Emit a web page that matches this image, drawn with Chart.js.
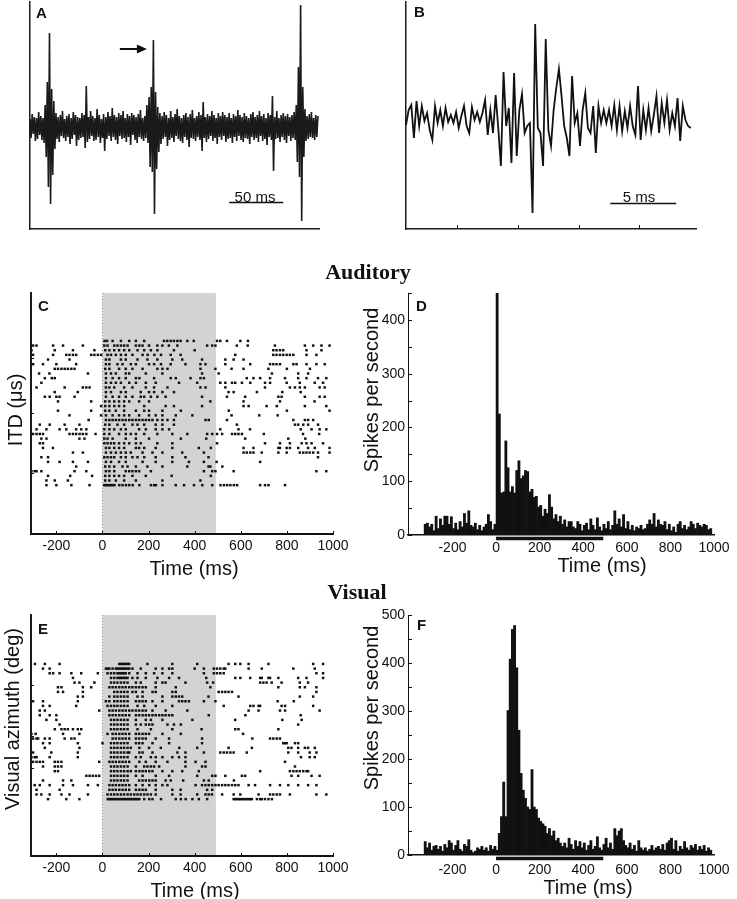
<!DOCTYPE html>
<html>
<head>
<meta charset="utf-8">
<title>Auditory and visual responses</title>
<script src="https://cdn.jsdelivr.net/npm/chart.js@4.4.1/dist/chart.umd.min.js"></script>
<style>
  html, body { margin:0; padding:0; background:#fff; }
  body { position:relative; width:737px; height:899px; overflow:hidden; font-family:"Liberation Sans", Arial, sans-serif; color:#111; }
  canvas { position:absolute; }
  .t { position:absolute; line-height:1; white-space:nowrap; }
  .c { transform:translate(-50%,-50%); }
  .r { transform:translate(-50%,-50%) rotate(-90deg); }
  .lt { font-weight:bold; font-size:15px; }
  .ax { font-size:20px; }
  .sb { font-size:15px; }
  .sec { font-family:"Liberation Serif","Times New Roman",serif; font-weight:bold; font-size:22px; }
</style>
</head>
<body>
<canvas id="cA" width="345" height="240" style="left:0;top:0"></canvas>
<canvas id="cB" width="367" height="240" style="left:370px;top:0"></canvas>
<canvas id="cC" width="355" height="300" style="left:0;top:285px"></canvas>
<canvas id="cD" width="382" height="306" style="left:355px;top:279px"></canvas>
<canvas id="cE" width="355" height="300" style="left:0;top:607px"></canvas>
<canvas id="cF" width="382" height="306" style="left:355px;top:601px"></canvas>

<div class="t lt" style="left:36px;top:5px">A</div>
<div class="t lt" style="left:414px;top:4px">B</div>
<div class="t lt" style="left:38px;top:298px">C</div>
<div class="t lt" style="left:416px;top:298px">D</div>
<div class="t lt" style="left:38px;top:621px">E</div>
<div class="t lt" style="left:417px;top:617px">F</div>

<div class="t sb c" style="left:255px;top:196px">50 ms</div>
<div class="t sb c" style="left:639px;top:196px">5 ms</div>

<div class="t sec c" style="left:368px;top:272px">Auditory</div>
<div class="t sec c" style="left:357px;top:592px">Visual</div>

<div class="t ax r" style="left:15px;top:410px">ITD (μs)</div>
<div class="t ax r" style="left:12px;top:719px">Visual azimuth (deg)</div>
<div class="t ax r" style="left:371px;top:390px">Spikes per second</div>
<div class="t ax r" style="left:371px;top:708px">Spikes per second</div>
<div class="t ax c" style="left:194px;top:568px">Time (ms)</div>
<div class="t ax c" style="left:602px;top:565px">Time (ms)</div>
<div class="t ax c" style="left:195px;top:890px">Time (ms)</div>
<div class="t ax c" style="left:588px;top:887px">Time (ms)</div>

<script>
// ---- data ----
// A: overlaid raw sweeps, one sample per ms
var aStep = 1;
var aTrace = [
  8,-11,13,-7,10,-14,9,-12,15,-8,11,-13,9,-16,22,-30,45,-60,94,-77,
  38,-48,26,-22,14,-12,10,-15,12,-9,16,-11,8,-14,11,-10,13,-17,9,-12,
  15,-8,12,-19,10,-13,9,-11,14,-10,12,-21,41,-15,10,-12,16,-9,11,-14,
  9,-13,18,-10,12,-16,8,-11,13,-24,10,-12,15,-9,11,-14,19,-10,12,-13,
  10,-17,14,-9,12,-12,16,-11,9,-15,13,-10,11,-18,14,-8,12,-13,10,-16,
  13,-10,17,-12,9,-14,11,-11,22,-16,30,-40,40,-45,87,-87,35,-42,20,-25,
  14,-17,11,-12,15,-10,12,-19,9,-13,16,-11,10,-15,13,-9,18,-12,11,-14,
  9,-16,12,-10,14,-13,10,-20,13,-11,17,-12,9,-14,11,-10,15,-13,12,-24,
  25,-11,10,-15,13,-12,11,-9,16,-14,12,-11,9,-17,14,-10,11,-13,15,-9,
  12,-15,10,-12,14,-11,9,-16,13,-10,11,-14,17,-9,12,-13,10,-15,14,-11,
  11,-12,9,-17,13,-10,15,-13,10,-11,12,-15,16,-9,11,-14,13,-12,9,-18,
  14,-10,12,-13,31,-44,10,-12,16,-11,9,-15,12,-10,14,-13,11,-16,13,-9,
  10,-14,12,-11,15,-13,22,-35,60,-50,122,-94,40,-30,18,-14,11,-12,13,-10,
  15,-11,9,-13,12,-10,11];

// B: single sweep, one sample every 0.2 ms
var bStep = 0.2;
var bVals = [-7,8,13,-20,17,-8,12,-3,5,-12,
  -22,12,-5,8,-8,10,-4,3,-5,6,
  -10,2,12,-8,-15,11,-2,6,-4,5,
  18,-17,8,-15,23,-10,-48,46,-8,10,
  -45,45,-38,8,24,-15,-8,-5,-95,94,
  -10,-15,-48,79,-12,-28,8,30,49,22,
  -8,-20,-38,42,-5,5,-28,8,25,-10,
  -15,12,-35,12,-5,8,-5,8,-8,13,
  -12,12,-13,7,-10,12,-8,-17,32,-22,
  8,-12,10,-13,3,22,-15,15,-5,18,
  -12,5,-8,20,-23,12,-2,-8,-10];
var bTicks = [3.9, 8.5, 13.1, 17.7];

// raster / PSTH time axis
var xTicks = [-200, 0, 200, 400, 600, 800, 1000];
var stimulus = [0, 492];

// C: auditory raster, spike times (ms), one array per trial, top to bottom
var cRows = [
  [9,20,44,80,116,145,181,267,281,296,310,325,339,368,396,497,511,540,598,631],
  [-301,-286,-214,-171,-85,8,22,51,65,80,94,109,145,160,174,202,238,260,288,325,454,476,490,583,630,748,878,914,950,985],
  [-308,-207,-128,-35,12,30,51,72,94,116,152,181,210,238,310,400,741,755,770,784,885,950],
  [-301,-214,-157,-143,-128,-114,-49,-35,-20,-6,22,37,58,80,101,130,174,196,225,254,296,339,576,741,755,770,784,799,813,828,885,928],
  [-236,-143,15,30,80,101,152,195,238,303,346,432,533,569,612],
  [-301,-258,-200,-114,15,30,65,87,123,145,202,224,254,296,360,425,447,533,641,727,741,755,770,828,842,885,928,964],
  [-207,-193,-178,-164,-150,-135,-121,12,30,72,101,130,174,238,260,282,425,490,560,612,720,800,900],
  [-275,-230,-63,15,37,58,101,116,188,260,432,504,735,849,892],
  [-250,-220,-207,15,44,72,101,145,160,224,296,318,382,425,440,626,655,684,727,792,849,885,935,971],
  [-265,15,37,58,80,116,145,188,231,332,411,511,533,562,576,605,641,705,727,799,856,921,957],
  [-286,-164,-85,-70,-56,15,30,51,94,130,188,224,282,425,447,533,705,813,835,856,878,942,964],
  [-207,-107,15,37,80,101,166,202,224,260,310,547,569,670,780,860],
  [-250,-229,-200,-186,-121,15,44,72,101,130,166,181,210,238,274,432,540,619,763,777,878,942,964],
  [-193,-49,12,30,51,72,94,116,159,202,468,612,770,920],
  [-6,12,30,51,72,94,181,274,310,432,612,634,712,756,878,971],
  [-193,-49,12,30,58,94,145,181,202,260,340,548,800,985],
  [-143,-6,15,44,72,94,116,159,202,231,260,318,390,560,680,760],
  [-60,15,30,44,58,72,87,101,116,130,145,159,174,188,202,217,238,260,282,310,447,461,540,828,878,892,914],
  [-272,-229,-164,-100,12,30,65,94,130,152,181,231,260,310,583,835,849,871,892,935],
  [-286,-243,-186,-157,-114,-92,-70,8,30,51,80,101,159,188,231,260,289,511,590,640,860,907,942,971],
  [-301,-286,-272,-258,-143,-128,-114,-99,-85,-70,-30,8,30,72,101,123,145,181,238,303,368,454,476,497,519,562,576,590,605,700,870,940],
  [-265,-243,-100,-78,8,22,44,101,145,202,340,450,619,806,880],
  [-272,-258,8,22,37,51,72,94,116,145,166,238,303,497,705,770,813,864,885,907,957],
  [-258,-215,15,30,51,72,94,145,159,181,231,303,418,470,612,655,763,770,799,813,849,892,921,985],
  [-128,-85,15,37,58,80,101,123,174,217,260,346,440,612,626,641,655,691,763,799,856,871,885,899,914,935,985],
  [-265,-236,8,22,37,51,80,101,130,152,181,231,303,360,460,935],
  [-236,-186,-128,-63,15,37,72,101,174,231,303,375,440,495,684],
  [-114,12,30,51,87,109,145,195,260,368,460,468,520],
  [-308,-294,-286,-265,-121,-70,15,30,51,101,116,130,145,159,210,440,476,490,569,928,971],
  [-236,-140,-45,12,30,51,72,94,130,188,300,470],
  [-243,-207,-150,12,30,58,94,145,260,425],
  [-243,-200,-135,-56,8,15,22,30,37,44,52,73,87,102,116,131,160,210,224,232,260,318,354,397,433,476,512,527,541,555,570,584,684,705,720,792]
];
var cYTicks = [3.6, 16.5, 28.3];

// D: auditory PSTH, 10 ms bins from -330 ms
var psthStart = -330;
var psthBin = 10;
var dVals = [20,22,15,20,8,35,12,30,18,35,35,20,34,12,22,10,25,15,40,22,45,18,15,22,10,18,8,15,20,38,25,10,20,
  450,225,78,80,175,125,80,90,78,120,
  138,105,110,120,118,80,85,70,72,52,
  55,35,48,40,75,52,30,38,25,35,
  20,28,15,25,25,15,12,25,20,8,
  18,22,10,30,18,10,32,15,8,20,
  12,25,10,18,45,20,30,15,38,12,
  25,10,18,8,15,12,18,10,12,20,
  28,20,40,15,28,20,18,25,10,20,
  8,15,5,20,25,12,18,10,15,25,
  20,12,22,18,15,20,18,10,12];

// E: visual raster, spike times (ms), top to bottom
var eRows = [
  [-293,-250,-186,73,80,87,94,101,109,116,195,303,411,547,576,598,634,720,914,957],
  [-258,-229,15,22,30,44,58,65,73,80,87,94,101,109,116,130,166,231,260,289,303,400,440,483,497,511,526,533,634,691,828,921],
  [-229,-214,-186,-135,-92,-20,22,37,51,65,73,80,87,94,101,116,152,188,224,260,303,440,483,497,511,526,928,957],
  [-128,37,51,65,73,80,87,94,101,109,130,152,188,238,289,332,450,576,598,641,684,691,720,727,763,849,885,957],
  [-121,-100,-35,37,51,65,80,94,109,145,166,231,260,274,360,454,480,684,698,712,734,777,856,892],
  [-193,-178,-85,-49,30,44,58,73,87,101,116,130,145,159,174,188,231,318,468,763,856,878,928],
  [-193,-171,-85,51,65,80,94,109,130,145,174,217,231,303,318,504,519,533,547,562,928],
  [-107,-85,30,51,65,80,94,109,152,174,260,303,318,332,346,460,590,856,914],
  [-301,-258,-107,15,30,51,65,80,94,109,145,160,174,188,217,260,332,346,360,375,440,490,760,830],
  [-258,-229,-114,22,37,51,65,80,94,109,152,181,231,303,526,641,655,677,684,777,792,914],
  [-272,-250,-14,30,44,58,73,87,101,116,130,145,159,174,188,217,274,368,634,677,770,792,942],
  [-272,-229,-200,30,44,58,73,87,101,116,145,159,174,188,202,217,231,246,260,274,289,303,461,620,860],
  [-243,-200,37,51,65,80,94,109,145,188,210,260,390,576,780,864],
  [-186,37,51,65,80,94,109,145,166,188,203,217,282,310,340,849],
  [-207,-178,-164,-150,-128,-107,-92,37,51,65,80,94,109,152,210,303,430,576,590,763],
  [-308,-290,-171,-100,22,44,58,73,87,101,116,145,159,174,188,202,260,340,610],
  [-301,-286,-279,-250,-229,-164,-135,-121,44,58,73,87,101,116,145,159,174,188,231,289,432,650,727,741,756,770],
  [-258,-229,-107,0,37,51,65,80,94,109,145,159,174,217,289,432,784,792,799,835,849],
  [-250,-100,37,51,65,80,94,109,123,160,202,253,333,411,547,648,806,820,849,878,892,921],
  [-301,-222,-107,37,51,65,80,94,109,116,160,174,217,325,360,440,511,526,540,555,569,626,806,849,899,928],
  [-308,-294,-286,-229,-107,37,51,65,80,94,109,145,166,210,231,260,303,332,360,861,899,921],
  [-301,-286,-272,-258,-207,-193,-178,-14,30,44,58,73,87,101,116,160,188,231,282,360,404,447,792],
  [-258,-207,-193,-178,37,51,65,80,94,109,145,181,195,210,224,246,360,432,447,835],
  [-207,-193,37,51,65,80,94,109,123,145,160,174,188,203,217,260,303,346,418,684,813,828,842,856,871,885,892],
  [-70,-56,-42,-28,-14,37,51,65,80,94,109,145,174,231,289,411,476,490,533,605,619,820,849,907,942],
  [-258,-171,-135,37,51,65,80,94,109,159,174,188,203,217,231,274,296,350,440,461,570],
  [-294,-272,-229,-171,-128,-63,-20,30,44,58,73,87,101,116,145,174,203,231,260,282,404,432,447,461,476,490,504,519,533,547,562,576,590,634,662,727,770,806,849,892,928],
  [-286,-186,30,44,58,73,87,101,116,145,160,174,188,231,303,339,454,476],
  [-286,-265,-229,-178,-143,-63,22,37,51,65,80,94,109,123,138,152,166,181,195,210,231,303,339,411,447,461,475,519,569,598,677,727,741,756,770,813,928,971],
  [-236,-157,-100,23,30,37,44,51,58,65,73,80,87,94,101,109,116,123,130,138,145,152,160,181,203,217,254,318,340,361,390,418,454,569,576,584,591,598,605,612,620,627,634,641,648,670,684,691,705,720,735]
];
var eYTicks = [7.7, 14.5, 25.5];

// F: visual PSTH, 10 ms bins from -330 ms
var fVals = [28,15,25,10,18,20,12,18,8,22,15,30,25,10,20,30,12,8,22,18,32,10,5,8,15,12,18,10,15,8,20,12,18,
  10,45,80,152,80,301,408,470,478,390,
  260,170,135,118,100,95,178,100,95,77,
  70,65,60,45,55,40,50,30,35,25,
  18,25,15,35,22,12,30,18,28,15,
  25,10,20,30,12,18,38,15,10,22,
  35,15,25,12,55,40,50,55,30,20,
  15,25,12,20,8,30,15,10,15,8,
  12,20,10,15,18,12,22,10,25,30,
  35,12,30,8,18,12,28,15,10,20,
  15,22,10,18,12,20,8,15,10];

// ---- helpers ----
function rasterPoints(rows) {
  var pts = [];
  rows.forEach(function (row, k) {
    row.forEach(function (t) { pts.push({ x: t, y: rows.length - k }); });
  });
  return pts;
}
function psthPoints(vals) {
  return vals.map(function (v, i) { return { x: psthStart + psthBin * (i + 0.5), y: v }; });
}
function tracePoints(vals, step) {
  return vals.map(function (v, i) { return { x: i * step, y: v }; });
}

Chart.defaults.font.family = '"Liberation Sans", Arial, sans-serif';
Chart.defaults.color = '#111';

// shading, inward ticks, stimulus bar, scale bars, arrow
var decor = {
  id: 'decor',
  beforeDatasetsDraw: function (chart, args, o) {
    if (!o.shade) return;
    var ctx = chart.ctx, a = chart.chartArea, x = chart.scales.x;
    var x0 = x.getPixelForValue(o.shade[0]), x1 = x.getPixelForValue(o.shade[1]);
    ctx.save();
    ctx.fillStyle = '#d3d3d3';
    ctx.fillRect(x0, a.top, x1 - x0, a.bottom - a.top - 1);
    ctx.strokeStyle = '#8a8a8a';
    ctx.lineWidth = 1;
    ctx.setLineDash([1, 2]);
    ctx.beginPath();
    ctx.moveTo(Math.round(x0) + 0.5, a.top);
    ctx.lineTo(Math.round(x0) + 0.5, a.bottom);
    ctx.stroke();
    ctx.restore();
  },
  afterDraw: function (chart, args, o) {
    var ctx = chart.ctx, a = chart.chartArea, x = chart.scales.x, y = chart.scales.y;
    var len = o.tickLen || 3;
    ctx.save();
    ctx.strokeStyle = '#111';
    ctx.fillStyle = '#111';
    ctx.lineWidth = 1;
    var yt = o.yTicks || [];
    if (o.yTicksAuto) yt = y.ticks.map(function (t) { return t.value; });
    yt.forEach(function (v) {
      var p = Math.round(y.getPixelForValue(v)) + 0.5;
      ctx.beginPath(); ctx.moveTo(a.left, p); ctx.lineTo(a.left + len, p); ctx.stroke();
    });
    (o.xTicks || []).forEach(function (v) {
      var p = Math.round(x.getPixelForValue(v)) + 0.5;
      ctx.beginPath(); ctx.moveTo(p, a.bottom); ctx.lineTo(p, a.bottom - len); ctx.stroke();
    });
    if (o.stimBar) {
      ctx.lineWidth = 3.5;
      ctx.beginPath();
      ctx.moveTo(x.getPixelForValue(o.stimBar[0]), a.bottom + 3.5);
      ctx.lineTo(x.getPixelForValue(o.stimBar[1]), a.bottom + 3.5);
      ctx.stroke();
    }
    if (o.scaleBar) {
      var sb = o.scaleBar, py = Math.round(y.getPixelForValue(sb.y)) + 0.5;
      ctx.lineWidth = 1.5;
      ctx.beginPath();
      ctx.moveTo(x.getPixelForValue(sb.x0), py);
      ctx.lineTo(x.getPixelForValue(sb.x1), py);
      ctx.stroke();
    }
    if (o.arrow) {
      var ar = o.arrow;
      var ax0 = x.getPixelForValue(ar.x0), ax1 = x.getPixelForValue(ar.x1), ay = y.getPixelForValue(ar.y);
      ctx.lineWidth = 2;
      ctx.beginPath(); ctx.moveTo(ax0, ay); ctx.lineTo(ax1 - 6, ay); ctx.stroke();
      ctx.beginPath(); ctx.moveTo(ax1, ay); ctx.lineTo(ax1 - 10, ay - 4.5); ctx.lineTo(ax1 - 10, ay + 4.5); ctx.closePath(); ctx.fill();
    }
    ctx.restore();
  }
};
Chart.register(decor);

var noGrid = { display: false, drawTicks: false, drawOnChartArea: false };

function plainAxis(min, max, size, horiz, bw) {
  return {
    type: 'linear', min: min, max: max,
    ticks: { display: false },
    grid: noGrid,
    border: { display: true, color: '#1a1a1a', width: bw },
    afterFit: function (s) { if (horiz) s.height = size; else s.width = size; }
  };
}
function timeAxis(min, max, h, pad, bw) {
  return {
    type: 'linear', min: min, max: max, offset: false,
    afterBuildTicks: function (s) { s.ticks = xTicks.map(function (v) { return { value: v }; }); },
    ticks: { font: { size: 14 }, color: '#111', padding: pad, maxRotation: 0, autoSkip: false,
      callback: function (v) { return String(v); } },
    grid: noGrid,
    border: { display: true, color: '#111', width: bw },
    afterFit: function (s) { s.height = h; }
  };
}
function rateAxis(max, w) {
  return {
    type: 'linear', min: 0, max: max,
    ticks: { stepSize: 50, font: { size: 14 }, color: '#111', padding: 3, autoSkip: false,
      callback: function (v) { return v % 100 === 0 ? String(v) : ''; } },
    grid: noGrid,
    border: { display: true, color: '#111', width: 1 },
    afterFit: function (s) { s.width = w; }
  };
}
function baseOpts(padding, decorOpts, scales) {
  return {
    responsive: false, animation: false, events: [],
    layout: { padding: padding },
    plugins: { legend: { display: false }, tooltip: { enabled: false }, decor: decorOpts },
    scales: scales
  };
}

// A
new Chart(document.getElementById('cA'), {
  type: 'line',
  data: { datasets: [
    { data: tracePoints(aTrace, aStep), borderColor: '#1a1a1a', borderWidth: 1.6, pointRadius: 0, fill: false, tension: 0 }
  ] },
  options: baseOpts({ top: 2, right: 26, left: 0, bottom: 0 },
    { scaleBar: { x0: 184, x1: 234, y: -75 }, arrow: { x0: 83, x1: 108, y: 78 } },
    { x: plainAxis(0, 267, 11, true, 1.5), y: plainAxis(-102, 125, 30, false, 1.5) })
});

// B
new Chart(document.getElementById('cB'), {
  type: 'line',
  data: { datasets: [
    { data: tracePoints(bVals, bStep), borderColor: '#111', borderWidth: 1.8, pointRadius: 0, fill: false, tension: 0 }
  ] },
  options: baseOpts({ top: 2, right: 41, left: 0, bottom: 0 },
    { scaleBar: { x0: 15.5, x1: 20.5, y: -85 }, xTicks: bTicks, tickLen: 4 },
    { x: plainAxis(0, 22, 11, true, 1.5), y: plainAxis(-111, 116, 36, false, 1.5) })
});

// C
new Chart(document.getElementById('cC'), {
  type: 'scatter',
  data: { datasets: [
    { data: rasterPoints(cRows), pointStyle: 'rect', pointRadius: 1.75, backgroundColor: '#111', borderWidth: 0 }
  ] },
  options: baseOpts({ top: 8, right: 22, left: 0, bottom: 0 },
    { shade: stimulus, xTicks: xTicks, yTicks: cYTicks, tickLen: 3 },
    { x: timeAxis(-310, 1000, 51, 4, 2), y: plainAxis(-9.5, 42.3, 31, false, 2) })
});

// D
new Chart(document.getElementById('cD'), {
  type: 'bar',
  data: { datasets: [
    { data: psthPoints(dVals), backgroundColor: '#111', borderWidth: 0, barPercentage: 1, categoryPercentage: 1 }
  ] },
  options: baseOpts({ top: 14, right: 23, left: 0, bottom: 0 },
    { stimBar: stimulus, yTicksAuto: true, tickLen: 4 },
    { x: timeAxis(-404, 1000, 50, 5, 1.5), y: rateAxis(450, 53) })
});

// E
new Chart(document.getElementById('cE'), {
  type: 'scatter',
  data: { datasets: [
    { data: rasterPoints(eRows), pointStyle: 'rect', pointRadius: 1.75, backgroundColor: '#111', borderWidth: 0 }
  ] },
  options: baseOpts({ top: 8, right: 22, left: 0, bottom: 0 },
    { shade: stimulus, xTicks: xTicks, yTicks: eYTicks, tickLen: 3 },
    { x: timeAxis(-310, 1000, 51, 4, 2), y: plainAxis(-11.2, 40.5, 31, false, 2) })
});

// F
new Chart(document.getElementById('cF'), {
  type: 'bar',
  data: { datasets: [
    { data: psthPoints(fVals), backgroundColor: '#111', borderWidth: 0, barPercentage: 1, categoryPercentage: 1 }
  ] },
  options: baseOpts({ top: 14, right: 23, left: 0, bottom: 0 },
    { stimBar: stimulus, yTicksAuto: true, tickLen: 4 },
    { x: timeAxis(-404, 1000, 52, 7, 1.5), y: rateAxis(500, 53) })
});
</script>
</body>
</html>
